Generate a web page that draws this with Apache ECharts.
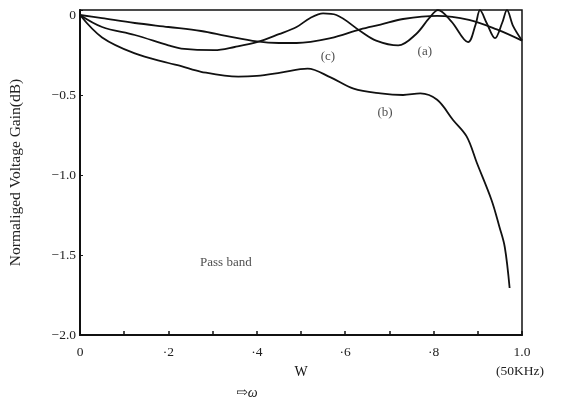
<!DOCTYPE html>
<html>
<head>
<meta charset="utf-8">
<script src="https://cdn.jsdelivr.net/npm/echarts@6/dist/echarts.min.js"></script>
<style>
  html, body { margin: 0; padding: 0; background: #fff; }
  #chart { width: 563px; height: 414px; }
</style>
</head>
<body>
<div id="chart"></div>
<script>
// curve (a): rippling response
const curveA = [
  [0, 0], [0.05, -0.075], [0.124, -0.125], [0.2, -0.19], [0.229, -0.21], [0.304, -0.22],
  [0.35, -0.2], [0.4, -0.17], [0.45, -0.12], [0.49, -0.075], [0.52, -0.02], [0.55, 0.01],
  [0.58, 0.0], [0.634, -0.1], [0.67, -0.16], [0.72, -0.19], [0.76, -0.12], [0.79, -0.02],
  [0.81, 0.03], [0.84, -0.04], [0.878, -0.17], [0.895, -0.06], [0.905, 0.03], [0.92, -0.05],
  [0.939, -0.145], [0.955, -0.05], [0.966, 0.03], [0.98, -0.07], [1.0, -0.16]
];
// curve (b)
const curveB = [
  [0, 0], [0.05, -0.14], [0.124, -0.24], [0.2, -0.3], [0.229, -0.32], [0.274, -0.355],
  [0.358, -0.385], [0.4, -0.38], [0.454, -0.36], [0.515, -0.335], [0.567, -0.39],
  [0.619, -0.46], [0.68, -0.49], [0.731, -0.5], [0.77, -0.49], [0.808, -0.53],
  [0.844, -0.656], [0.875, -0.76], [0.898, -0.925], [0.931, -1.156], [0.949, -1.325],
  [0.961, -1.45], [0.972, -1.706]
];
// curve (c): smooth response
const curveC = [
  [0, 0], [0.05, -0.02], [0.124, -0.05], [0.2, -0.075], [0.274, -0.1], [0.33, -0.13],
  [0.4, -0.165], [0.45, -0.175], [0.49, -0.175], [0.567, -0.145], [0.634, -0.09],
  [0.68, -0.06], [0.731, -0.025], [0.808, -0.005], [0.88, -0.03], [0.943, -0.09], [1.0, -0.16]
];
// text notes in data space
const noteText = ["(c)", "(a)", "(b)", "Pass band"];
const noteX = [0.561, 0.78, 0.69, 0.33];
const noteY = [-0.26, -0.23, -0.61, -1.55];

const xLabels = { 0: "0", 2: "·2", 4: "·4", 6: "·6", 8: "·8", 10: "1.0" };
const yLabels = { 0: "0", "-0.5": "−0.5", "-1": "−1.0", "-1.5": "−1.5", "-2": "−2.0" };

const serif = '"Liberation Serif", "DejaVu Serif", serif';

const chart = echarts.init(document.getElementById("chart"));

const lineStyle = { color: "#111", width: 1.8 };

chart.setOption({
  animation: false,
  backgroundColor: "#fff",
  grid: {
    left: 78, right: 41, top: 10, bottom: 79,
    show: true, borderColor: "#111", borderWidth: 1.5
  },
  xAxis: {
    type: "value",
    min: 0, max: 1, interval: 0.1,
    name: "W",
    nameLocation: "middle",
    nameGap: 30,
    nameTextStyle: { fontFamily: serif, fontSize: 14, color: "#111" },
    axisLine: { show: true, onZero: false, lineStyle: { color: "#111", width: 2 } },
    axisTick: { show: true, inside: true, length: 4, lineStyle: { color: "#111", width: 1.5 } },
    axisLabel: {
      fontFamily: serif, fontSize: 13.5, color: "#222", margin: 10,
      formatter: function (v) {
        const k = Math.round(v * 10);
        return xLabels[k] !== undefined ? xLabels[k] : "";
      }
    },
    splitLine: { show: false }
  },
  yAxis: {
    type: "value",
    min: -2, max: 0.03125, interval: 0.5,
    name: "Normaliged Voltage Gain(dB)",
    nameLocation: "middle",
    nameGap: 56,
    nameRotate: 90,
    nameTextStyle: { fontFamily: serif, fontSize: 15.5, color: "#222" },
    axisLine: { show: true, onZero: false, lineStyle: { color: "#111", width: 2 } },
    axisTick: { show: true, inside: true, length: 3, lineStyle: { color: "#111" } },
    axisLabel: {
      fontFamily: serif, fontSize: 13.5, color: "#222", margin: 4,
      formatter: function (v) {
        if (v > 0.001) return "";
        const key = String(Math.round(v * 10) / 10);
        return yLabels[key] !== undefined ? yLabels[key] : "";
      }
    },
    splitLine: { show: false }
  },
  graphic: [
    { type: "text", left: 496, top: 364, style: { text: "(50KHz)", font: "13.5px " + serif, fill: "#222" } },
    { type: "text", left: 236, top: 386, style: { text: "⇨ω", font: "italic 14px " + serif, fill: "#222" } }
  ],
  series: [
    { name: "a", type: "line", data: curveA, smooth: 0.35, showSymbol: false, lineStyle: lineStyle, clip: false },
    { name: "b", type: "line", data: curveB, smooth: 0.35, showSymbol: false, lineStyle: lineStyle, clip: false },
    { name: "c", type: "line", data: curveC, smooth: 0.35, showSymbol: false, lineStyle: lineStyle, clip: false },
    {
      name: "notes", type: "scatter", symbolSize: 0,
      data: noteText.map((t, i) => ({ value: [noteX[i], noteY[i]], name: t })),
      label: {
        show: true, position: "inside",
        formatter: p => p.name,
        fontFamily: serif, fontSize: 13, color: "#222"
      }
    }
  ]
});
</script>
</body>
</html>
